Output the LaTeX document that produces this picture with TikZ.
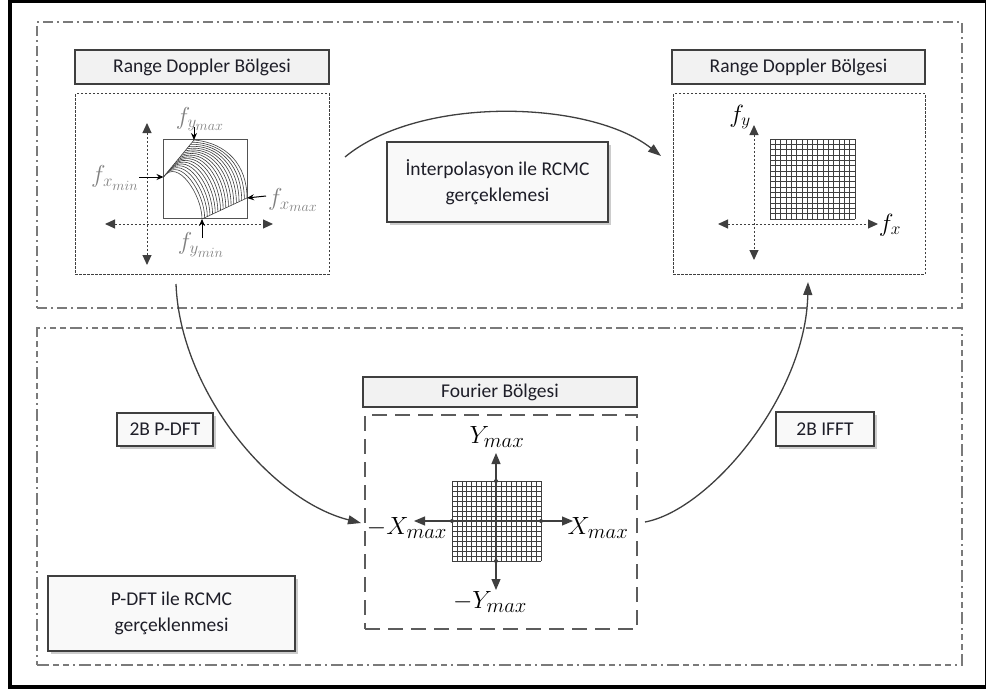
\documentclass[tikz,border=0pt]{standalone}
\usepackage{fontspec}
\setmainfont{Carlito}
\usetikzlibrary{arrows.meta,shadows,calc}
\definecolor{ln}{HTML}{3F3F3F}
\definecolor{fr}{HTML}{7A7A7A}
\definecolor{bx}{HTML}{F2F2F2}
\definecolor{tx}{HTML}{1E1E28}
\definecolor{lb}{HTML}{808080}
\tikzset{
 hdr/.style={draw=ln, line width=1.2pt, fill=bx, text=tx, inner sep=0pt,
   font=\fontsize{19.5}{26}\selectfont, align=center},
 lblbox/.style={hdr, fill=white!55!bx,
   drop shadow={shadow xshift=3pt, shadow yshift=-3pt, fill=black!20, opacity=1}},
 regA/.style={draw=fr, line width=1.1pt, inner sep=0pt,
   dash pattern=on 10pt off 4pt on 2pt off 4pt},
 regB/.style={draw=fr, line width=1.1pt, inner sep=0pt,
   dash pattern=on 12pt off 4pt on 6pt off 4pt on 6pt off 4pt on 2pt off 4pt},
 dotbox/.style={draw=ln, line width=1pt, inner sep=0pt, dash pattern=on 2.5pt off 1.5pt},
 dashbox/.style={draw=ln!85, line width=1.3pt, inner sep=0pt, dash pattern=on 15pt off 8pt},
 conn/.style={draw=ln, line width=1.3pt, -{Triangle[length=13pt,width=9pt]}},
 axisd/.style={draw=ln, line width=1pt, dash pattern=on 2.5pt off 1.5pt,
   {Triangle[length=10pt,width=9pt]}-{Triangle[length=10pt,width=9pt]}},
 axiss/.style={draw=ln, line width=1.2pt,
   {Triangle[length=11pt,width=9pt]}-{Triangle[length=11pt,width=9pt]}},
 smallarr/.style={draw=black, line width=1pt, -{Stealth[length=7pt,width=6pt]}},
 fan/.style={draw=ln, line width=0.6pt},
 gridln/.style={draw=ln, line width=0.7pt},
 glab/.style={text=lb, inner sep=0pt, font=\fontsize{20.74}{21}\selectfont, scale=1.18},
 blab/.style={text=black, inner sep=0pt, font=\fontsize{20.74}{22}\selectfont, scale=1.2},
 xlab/.style={text=black, inner sep=0pt, font=\fontsize{24.88}{25}\selectfont},
}
\begin{document}
\begin{tikzpicture}[x=1pt,y=-1pt]
\useasboundingbox (0,0) rectangle (986,693);
\draw[line width=4pt] (9.5,1.5) rectangle (987,687);

% regions
\node[regA, minimum width=925pt, minimum height=286pt] (rtop) at (499.5,165) {};
\node[regB, minimum width=925pt, minimum height=337pt] (rbot) at (499.5,496.5) {};

% headers
\node[hdr, minimum width=254pt, minimum height=34pt] (h1) at (202,67) {Range Doppler Bölgesi};
\node[hdr, minimum width=253pt, minimum height=34pt] (h2) at (798.5,67) {Range Doppler Bölgesi};
\node[hdr, minimum width=274pt, minimum height=30pt] (h3) at (500,392) {Fourier Bölgesi};

% panels
\node[dotbox, minimum width=254pt, minimum height=180pt] (p1) at (202,184) {};
\node[dotbox, minimum width=252pt, minimum height=180pt] (p2) at (799,184) {};
\node[dashbox, minimum width=272pt, minimum height=214pt] (p3) at (501,522) {};

% label boxes
\node[lblbox, minimum width=221pt, minimum height=80pt] (interp) at (497.5,182) {İnterpolasyon ile RCMC\\gerçeklemesi};
\node[lblbox, minimum width=96pt, minimum height=33pt] (pdft) at (165,429.5) {2B P-DFT};
\node[lblbox, minimum width=98pt, minimum height=34pt] (ifft) at (825,429) {2B IFFT};
\node[lblbox, minimum width=247pt, minimum height=75pt] (pdftr) at (171.5,613.5) {P-DFT ile RCMC\\gerçeklenmesi};

% ---------- left range-doppler panel
\coordinate (la1) at (147,123); \coordinate (la2) at (147,265);
\coordinate (la3) at (105,224); \coordinate (la4) at (273,224);
\draw[axisd] (la1) -- (la2);
\draw[axisd] (la3) -- (la4);
\node[draw=ln!90, line width=1pt, fill=white, inner sep=0pt, minimum width=84pt, minimum height=79pt] (sq) at (205,179) {};
\coordinate (fxmin) at (163.5,177);
\coordinate (fymax) at (194,140);
\coordinate (fymin) at (202,219);
\coordinate (fxmax) at (247,198);
\foreach \i in {0,...,17}{
  \pgfmathsetmacro\tt{\i/17}
  \pgfmathsetmacro\aa{55-60*\tt}
  \pgfmathsetmacro\LL{24+9*\tt}
  \coordinate (P) at ($(fxmin)!\tt!(fymax)$);
  \coordinate (Q) at ($(fymin)!\tt!(fxmax)$);
  \draw[fan] (P) .. controls ($(P)+({\LL*cos(\aa)},{-\LL*sin(\aa)})$) and ($(Q)+(0,-\LL)$) .. (Q);
}
\draw[fan] (fxmin) -- (fymax);
\draw[fan] (fymin) -- (fxmax);
\node[glab] (lymax) at (200,119) {$f_{y_{max}}$};
\node[glab] (lxmin) at (115,178) {$f_{x_{min}}$};
\node[glab] (lxmax) at (293,200) {$f_{x_{max}}$};
\node[glab] (lymin) at (201,245) {$f_{y_{min}}$};
\coordinate (a1) at (194,127); \draw[smallarr] (a1) -- (fymax);
\coordinate (a2) at (139,177); \draw[smallarr] (a2) -- (fxmin);
\coordinate (a3) at (266,196); \draw[smallarr] (a3) -- (fxmax);
\coordinate (a4) at (202,238); \draw[smallarr] (a4) -- (fymin);

% ---------- right range-doppler panel
\coordinate (ra1) at (754,125); \coordinate (ra2) at (754,260);
\coordinate (ra3) at (718,224); \coordinate (ra4) at (878,224);
\draw[axisd] (ra1) -- (ra2);
\draw[axisd] (ra3) -- (ra4);
\foreach \k in {0,...,16} \draw[gridln] ({770+\k*85/16},139) -- ++(0,80);
\foreach \k in {0,...,15} \draw[gridln] (770,{139+\k*80/15}) -- ++(85,0);
\node[blab] (rfy) at (740,117) {$f_y$};
\node[blab] (rfx) at (890,225) {$f_x$};

% ---------- Fourier panel
\foreach \k in {0,...,18} \draw[gridln] ({452+\k*89/18},481) -- ++(0,80);
\foreach \k in {0,...,16} \draw[gridln] (452,{481+\k*80/16}) -- ++(89,0);
\coordinate (fa1) at (496,453); \coordinate (fa2) at (496,590);
\coordinate (fa3) at (414,521); \coordinate (fa4) at (573,521);
\draw[axiss] (fa1) -- (fa2);
\draw[axiss] (fa3) -- (fa4);
\foreach \p in {(496,481),(496,561),(452,521),(541,521)} \fill[ln] \p circle (2pt);
\node[xlab] (ymax) at (497,437) {$Y_{max}$};
\node[xlab] (xmin) at (407,528) {$-X_{max}$};
\node[xlab] (xmax) at (598,528) {$X_{max}$};
\node[xlab] (ymin) at (490,602) {$-Y_{max}$};

% ---------- connectors
\coordinate (c1s) at (345,157); \coordinate (c1e) at (661,156);
\draw[conn] (c1s) .. controls (420,95) and (590,100) .. (c1e);
\coordinate (c2s) at (176,284); \coordinate (c2e) at (361,523);
\draw[conn] (c2s) .. controls (180,390) and (270,500) .. (c2e);
\coordinate (c3s) at (645,522); \coordinate (c3e) at (808,282);
\draw[conn] (c3s) .. controls (710,510) and (806,395) .. (c3e);
\end{tikzpicture}
\end{document}
